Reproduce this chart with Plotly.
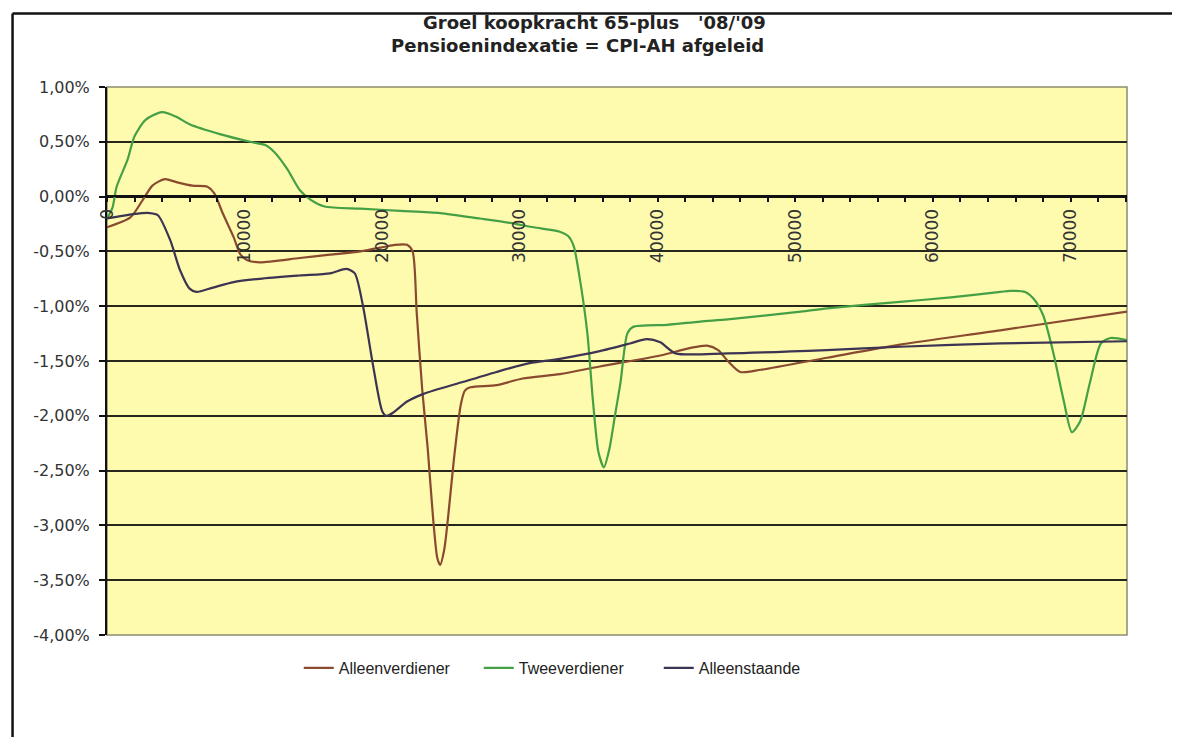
import plotly.graph_objects as go

# ---- data ----
x_green = [0, 400, 700, 1500, 2000, 2800, 4000, 5000, 6000, 8200, 10400, 11500, 12200, 13100,
           14000, 14800, 15800, 18400, 21300, 24200, 27100, 29300, 31000, 32900, 33500, 33900,
           34400, 34900, 35300, 35700, 36100, 36500, 36900, 37300, 37800, 38200, 40700, 43100,
           45100, 50400, 52300, 57600, 61300, 64900, 65600, 66700, 67300, 68000, 68700, 69500,
           70100, 70700, 71400, 72200, 72900, 74100]
y_green = [-0.20, -0.10, 0.09, 0.34, 0.55, 0.70, 0.77, 0.73, 0.66, 0.57, 0.50, 0.47, 0.40, 0.25,
           0.06, -0.03, -0.09, -0.11, -0.13, -0.15, -0.20, -0.24, -0.28, -0.32, -0.36, -0.45,
           -0.79, -1.25, -1.86, -2.33, -2.47, -2.30, -2.00, -1.70, -1.25, -1.19, -1.17, -1.14,
           -1.12, -1.05, -1.02, -0.96, -0.92, -0.87, -0.86, -0.87, -0.93, -1.08, -1.40, -1.86,
           -2.15, -2.05, -1.70, -1.34, -1.29, -1.31]

x_brown = [0, 1700, 2600, 3300, 4200, 5100, 6200, 7300, 7800, 8400, 9200, 9700, 10200, 11100,
           14000, 16200, 18400, 20100, 20900, 21800, 22200, 22500, 22900, 23300, 23700, 24000,
           24200, 24500, 24800, 25200, 25700, 26000, 26400, 28300, 30200, 32900, 35800, 40200,
           42400, 43600, 44400, 45100, 46000, 47500, 52300, 57600, 64900, 74100]
y_brown = [-0.28, -0.19, -0.03, 0.10, 0.16, 0.13, 0.10, 0.09, 0.03, -0.15, -0.37, -0.53, -0.58,
           -0.60, -0.56, -0.53, -0.50, -0.46, -0.44, -0.44, -0.50, -1.06, -1.76, -2.30, -2.95,
           -3.30, -3.36, -3.22, -2.90, -2.40, -1.90, -1.77, -1.74, -1.72, -1.66, -1.62, -1.55,
           -1.45, -1.38, -1.36, -1.40, -1.50, -1.60, -1.58, -1.47, -1.35, -1.22, -1.05]

x_dark = [0, 1900, 3100, 3700, 4600, 5300, 6000, 6500, 7700, 9200, 11100, 14000, 16200, 17400,
          18000, 18600, 19300, 20000, 20300, 20800, 21800, 23000, 25900, 28300, 30700, 32900,
          35800, 38000, 39200, 40200, 41300, 45100, 52300, 57600, 64900, 74100]
y_dark = [-0.20, -0.16, -0.15, -0.17, -0.40, -0.67, -0.84, -0.87, -0.83, -0.78, -0.75, -0.72,
          -0.70, -0.66, -0.70, -1.00, -1.52, -1.96, -2.00, -1.97, -1.87, -1.80, -1.69, -1.60,
          -1.52, -1.48, -1.41, -1.34, -1.30, -1.33, -1.43, -1.43, -1.40, -1.37, -1.34, -1.32]

series_names = ["Alleenverdiener", "Tweeverdiener", "Alleenstaande"]
y_tickvals = [1.0, 0.5, 0.0, -0.5, -1.0, -1.5, -2.0, -2.5, -3.0, -3.5, -4.0]
y_ticktext = ["1,00%", "0,50%", "0,00%", "-0,50%", "-1,00%", "-1,50%", "-2,00%",
              "-2,50%", "-3,00%", "-3,50%", "-4,00%"]
title_line1 = "Groel koopkracht 65-plus   '08/'09"
title_line2 = "Pensioenindexatie = CPI-AH afgeleid"

fig = go.Figure()
fig.add_trace(go.Scatter(x=x_brown, y=y_brown, name=series_names[0], mode="lines",
                         line=dict(color="#8a4a30", width=2.2, shape="spline", smoothing=0.7)))
fig.add_trace(go.Scatter(x=x_green, y=y_green, name=series_names[1], mode="lines",
                         line=dict(color="#45a045", width=2.2, shape="spline", smoothing=0.7)))
fig.add_trace(go.Scatter(x=x_dark, y=y_dark, name=series_names[2], mode="lines",
                         line=dict(color="#3c3452", width=2.2, shape="spline", smoothing=0.7)))

fig.update_layout(
    width=1180, height=737,
    margin=dict(l=99, r=61, t=79, b=110),
    paper_bgcolor="white",
    plot_bgcolor="#FEFAAE",
    font=dict(family="DejaVu Sans", color="#333333"),
    showlegend=True,
    legend=dict(orientation="h", x=0.188, y=-0.060, xanchor="left", yanchor="middle",
                font=dict(family="Liberation Sans", size=16, color="#222222"),
                entrywidth=135, entrywidthmode="pixels", bgcolor="rgba(0,0,0,0)"),
    xaxis=dict(range=[0, 74100], anchor="free", position=0.801,
               tickmode="linear", tick0=0, dtick=10000, tickangle=-90, tickformat="d",
               ticks="outside", ticklen=5, tickwidth=2, tickcolor="#111111",
               minor=dict(dtick=2000, ticks="outside", ticklen=5, tickwidth=2, tickcolor="#111111"),
               showline=True, linecolor="#111111", linewidth=2,
               showgrid=False, zeroline=False,
               tickfont=dict(family="DejaVu Sans", size=17, color="#333333")),
    yaxis=dict(range=[-4, 1], tickvals=y_tickvals, ticktext=y_ticktext,
               ticks="outside", ticklen=6, tickwidth=2, tickcolor="#111111",
               showline=True, linecolor="#111111", linewidth=2,
               showgrid=True, gridcolor="#26261c", gridwidth=2,
               zeroline=True, zerolinecolor="#111111", zerolinewidth=2,
               ticklabelstandoff=6,
               tickfont=dict(family="DejaVu Sans", size=16, color="#333333")),
    annotations=[
        dict(text="<b>" + title_line1 + "</b>", xref="paper", yref="paper", x=0.4775, y=1.1186,
             xanchor="center", yanchor="middle", showarrow=False,
             font=dict(family="DejaVu Sans", size=18, color="#222222")),
        dict(text="<b>" + title_line2 + "</b>", xref="paper", yref="paper", x=0.4608, y=1.0766,
             xanchor="center", yanchor="middle", showarrow=False,
             font=dict(family="DejaVu Sans", size=18, color="#222222")),
    ],
    shapes=[
        # plot-area border (right / bottom)
        dict(type="rect", xref="paper", yref="paper", x0=0, y0=0, x1=1, y1=1,
             line=dict(color="#8c8c70", width=1.5), layer="below"),
        # outer chart frame (left and top edges)
        dict(type="line", xref="paper", yref="paper", x0=-0.0926, y0=1.1341, x1=-0.0926, y1=-0.25,
             line=dict(color="#111111", width=2.5)),
        dict(type="line", xref="paper", yref="paper", x0=-0.0926, y0=1.1341, x1=1.08, y1=1.1341,
             line=dict(color="#111111", width=2.5)),
    ],
)

fig.write_html("out.html")
